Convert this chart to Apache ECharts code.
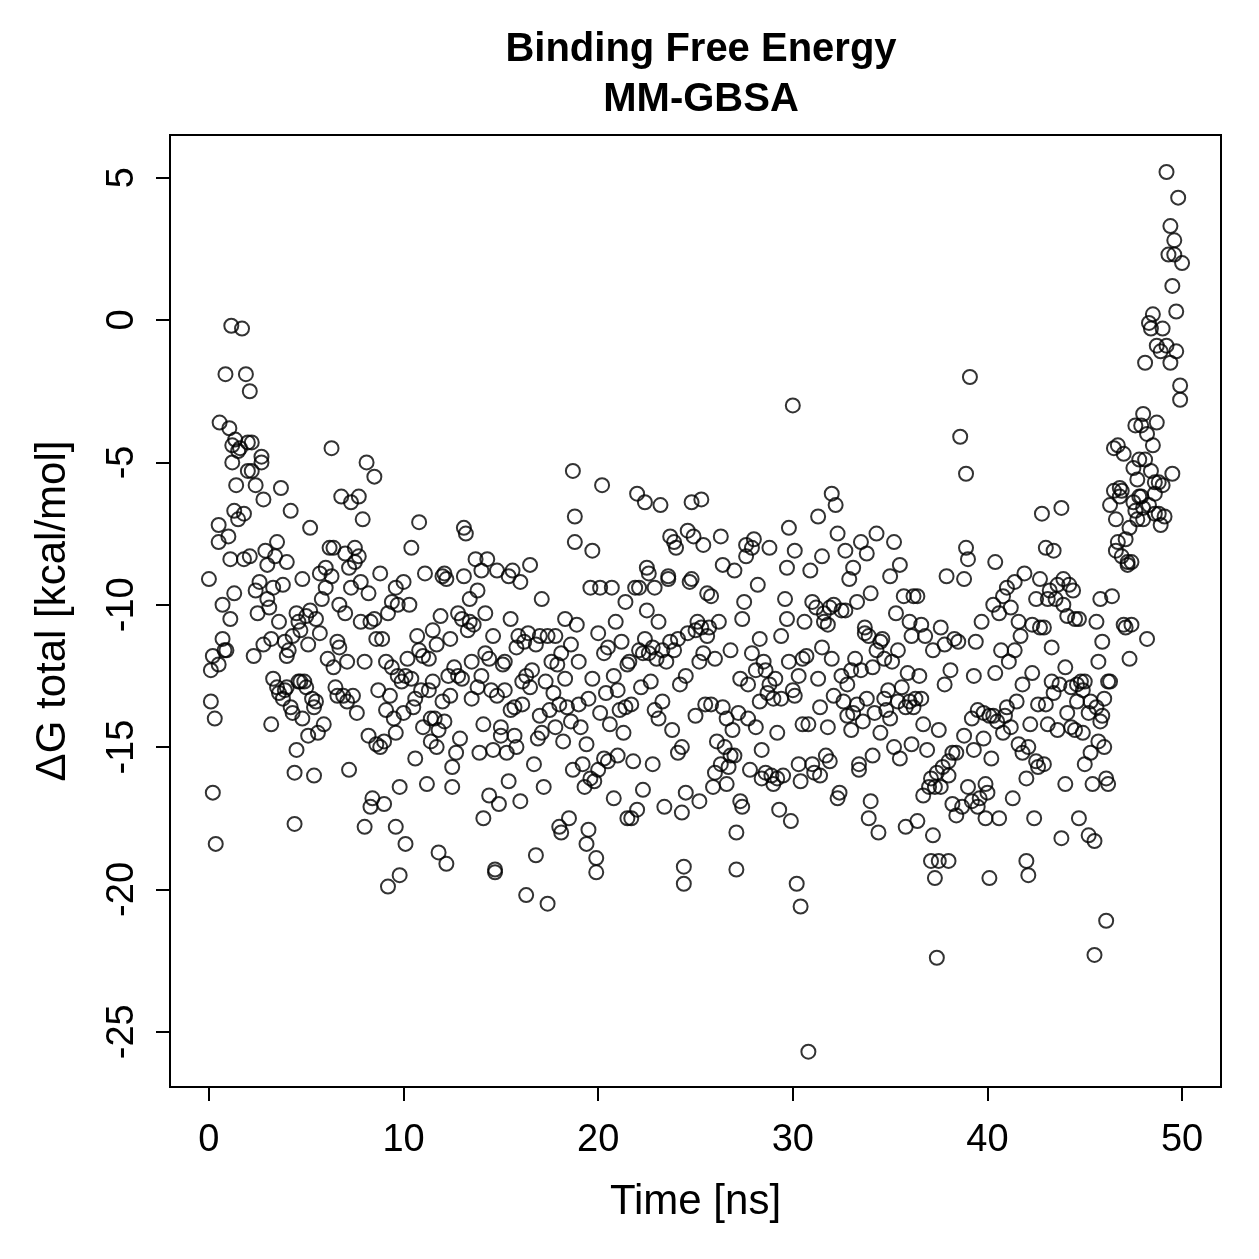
<!DOCTYPE html>
<html>
<head>
<meta charset="utf-8">
<script src="https://cdn.jsdelivr.net/npm/echarts@6/dist/echarts.min.js"></script>
<style>
  html, body { margin: 0; padding: 0; background: #fff; }
  #chart { width: 1259px; height: 1259px; }
</style>
</head>
<body>
<div id="chart"></div>
<script>
// time in ns (one entry per circle)
const time = [
  0.0, 0.1, 0.1, 0.2, 0.2, 0.3, 0.35, 0.5, 0.5, 0.5, 0.55, 0.7, 0.7, 0.8, 0.85, 0.9, 1.0, 1.05, 1.1, 1.1,
  1.15, 1.2, 1.2, 1.3, 1.3, 1.35, 1.4, 1.5, 1.5, 1.6, 1.7, 1.8, 1.8, 1.9, 2.0, 2.0, 2.1, 2.1, 2.2, 2.2,
  2.3, 2.4, 2.4, 2.5, 2.6, 2.7, 2.7, 2.8, 2.8, 2.9, 3.0, 3.0, 3.1, 3.2, 3.2, 3.3, 3.3, 3.4, 3.5, 3.5,
  3.6, 3.6, 3.7, 3.8, 3.8, 3.9, 3.9, 4.0, 4.0, 4.0, 4.1, 4.2, 4.2, 4.3, 4.3, 4.4, 4.4, 4.5, 4.5, 4.6,
  4.6, 4.7, 4.7, 4.8, 4.8, 4.9, 5.0, 5.0, 5.1, 5.1, 5.2, 5.2, 5.3, 5.4, 5.4, 5.5, 5.5, 5.6, 5.7, 5.7,
  5.8, 5.9, 6.0, 6.0, 6.1, 6.2, 6.3, 6.3, 6.4, 6.4, 6.5, 6.6, 6.6, 6.7, 6.7, 6.8, 6.9, 7.0, 7.0, 7.1,
  7.1, 7.2, 7.2, 7.3, 7.3, 7.4, 7.5, 7.5, 7.6, 7.7, 7.7, 7.8, 7.8, 7.9, 8.0, 8.0, 8.1, 8.2, 8.2, 8.3,
  8.3, 8.4, 8.5, 8.5, 8.6, 8.6, 8.7, 8.8, 8.8, 8.9, 9.0, 9.0, 9.1, 9.1, 9.2, 9.2, 9.3, 9.4, 9.4, 9.5,
  9.6, 9.6, 9.6, 9.7, 9.7, 9.8, 9.8, 9.9, 10.0, 10.0, 10.1, 10.1, 10.2, 10.3, 10.4, 10.4, 10.5, 10.6, 10.6, 10.7,
  10.8, 10.8, 10.9, 11.0, 11.0, 11.1, 11.2, 11.3, 11.3, 11.4, 11.4, 11.5, 11.5, 11.6, 11.7, 11.7, 11.8, 11.8, 11.9, 12.0,
  12.0, 12.1, 12.1, 12.2, 12.2, 12.3, 12.4, 12.4, 12.5, 12.5, 12.6, 12.7, 12.8, 12.8, 12.9, 13.0, 13.0, 13.1, 13.1, 13.2,
  13.3, 13.4, 13.4, 13.5, 13.5, 13.6, 13.7, 13.8, 13.8, 13.9, 14.0, 14.0, 14.1, 14.1, 14.2, 14.2, 14.3, 14.4, 14.4, 14.5,
  14.6, 14.6, 14.7, 14.7, 14.8, 14.8, 14.9, 15.0, 15.0, 15.1, 15.2, 15.2, 15.3, 15.4, 15.4, 15.5, 15.5, 15.6, 15.7, 15.7,
  15.8, 15.8, 15.9, 16.0, 16.0, 16.1, 16.1, 16.2, 16.3, 16.3, 16.4, 16.5, 16.5, 16.6, 16.7, 16.8, 16.8, 16.9, 17.0, 17.0,
  17.1, 17.1, 17.2, 17.3, 17.4, 17.4, 17.5, 17.6, 17.7, 17.8, 17.8, 17.9, 18.0, 18.0, 18.1, 18.1, 18.2, 18.3, 18.3, 18.4,
  18.5, 18.6, 18.6, 18.7, 18.7, 18.8, 18.8, 18.9, 19.0, 19.0, 19.1, 19.2, 19.3, 19.4, 19.4, 19.5, 19.5, 19.6, 19.6, 19.7,
  19.7, 19.8, 19.9, 19.9, 20.0, 20.0, 20.1, 20.1, 20.2, 20.3, 20.3, 20.4, 20.5, 20.5, 20.6, 20.7, 20.8, 20.8, 20.9, 21.0,
  21.0, 21.1, 21.2, 21.3, 21.4, 21.4, 21.5, 21.5, 21.6, 21.7, 21.7, 21.8, 21.9, 22.0, 22.0, 22.1, 22.1, 22.2, 22.3, 22.3,
  22.4, 22.4, 22.5, 22.5, 22.6, 22.6, 22.7, 22.8, 22.8, 22.9, 22.9, 23.0, 23.1, 23.1, 23.2, 23.3, 23.3, 23.4, 23.5, 23.6,
  23.6, 23.7, 23.7, 23.8, 23.9, 23.9, 24.0, 24.1, 24.1, 24.2, 24.3, 24.3, 24.4, 24.4, 24.5, 24.5, 24.6, 24.6, 24.7, 24.8,
  24.8, 24.9, 25.0, 25.0, 25.1, 25.2, 25.2, 25.3, 25.3, 25.4, 25.4, 25.5, 25.6, 25.6, 25.7, 25.8, 25.8, 25.9, 26.0, 26.0,
  26.1, 26.2, 26.3, 26.3, 26.4, 26.4, 26.5, 26.6, 26.6, 26.7, 26.8, 26.8, 26.9, 27.0, 27.0, 27.1, 27.1, 27.2, 27.3, 27.3,
  27.4, 27.4, 27.5, 27.6, 27.6, 27.7, 27.7, 27.8, 27.9, 27.9, 28.0, 28.1, 28.1, 28.2, 28.3, 28.3, 28.4, 28.4, 28.5, 28.6,
  28.6, 28.7, 28.8, 28.8, 28.9, 29.0, 29.0, 29.1, 29.2, 29.2, 29.3, 29.4, 29.4, 29.5, 29.6, 29.7, 29.7, 29.8, 29.8, 29.9,
  30.0, 30.0, 30.1, 30.1, 30.2, 30.3, 30.3, 30.4, 30.4, 30.5, 30.5, 30.6, 30.7, 30.8, 30.8, 30.9, 31.0, 31.0, 31.1, 31.2,
  31.3, 31.3, 31.4, 31.4, 31.5, 31.5, 31.6, 31.6, 31.7, 31.8, 31.8, 31.9, 31.9, 32.0, 32.0, 32.1, 32.1, 32.2, 32.3, 32.3,
  32.4, 32.5, 32.5, 32.6, 32.7, 32.7, 32.8, 32.8, 32.9, 33.0, 33.0, 33.1, 33.1, 33.2, 33.3, 33.3, 33.4, 33.4, 33.5, 33.5,
  33.6, 33.7, 33.7, 33.8, 33.8, 33.9, 33.9, 34.0, 34.0, 34.1, 34.1, 34.2, 34.3, 34.3, 34.4, 34.5, 34.5, 34.6, 34.7, 34.7,
  34.8, 34.9, 35.0, 35.0, 35.1, 35.2, 35.2, 35.3, 35.4, 35.4, 35.5, 35.5, 35.6, 35.7, 35.8, 35.8, 35.9, 36.0, 36.0, 36.1,
  36.1, 36.2, 36.2, 36.3, 36.4, 36.4, 36.5, 36.6, 36.6, 36.7, 36.7, 36.8, 36.9, 37.0, 37.1, 37.1, 37.2, 37.2, 37.3, 37.3,
  37.4, 37.4, 37.5, 37.5, 37.6, 37.6, 37.7, 37.8, 37.8, 37.9, 38.0, 38.0, 38.0, 38.1, 38.2, 38.2, 38.3, 38.4, 38.4, 38.5,
  38.6, 38.7, 38.8, 38.8, 38.9, 38.9, 39.0, 39.0, 39.1, 39.2, 39.2, 39.3, 39.3, 39.4, 39.5, 39.5, 39.6, 39.7, 39.8, 39.8,
  39.9, 39.9, 40.0, 40.1, 40.1, 40.2, 40.3, 40.3, 40.4, 40.4, 40.5, 40.6, 40.6, 40.7, 40.8, 40.8, 40.9, 41.0, 41.0, 41.1,
  41.2, 41.2, 41.3, 41.4, 41.4, 41.5, 41.6, 41.6, 41.7, 41.8, 41.8, 41.9, 42.0, 42.0, 42.1, 42.1, 42.2, 42.3, 42.3, 42.4,
  42.5, 42.5, 42.6, 42.6, 42.7, 42.7, 42.8, 42.9, 42.9, 43.0, 43.0, 43.1, 43.1, 43.2, 43.3, 43.3, 43.4, 43.4, 43.5, 43.6,
  43.6, 43.7, 43.8, 43.8, 43.9, 43.9, 44.0, 44.0, 44.1, 44.1, 44.2, 44.3, 44.3, 44.4, 44.5, 44.5, 44.6, 44.6, 44.7, 44.7,
  44.8, 44.9, 44.9, 45.0, 45.0, 45.2, 45.2, 45.3, 45.3, 45.4, 45.5, 45.5, 45.6, 45.6, 45.7, 45.7, 45.8, 45.8, 45.9, 45.9,
  46.0, 46.0, 46.1, 46.1, 46.2, 46.2, 46.3, 46.3, 46.4, 46.5, 46.5, 46.6, 46.6, 46.7, 46.7, 46.8, 46.8, 46.9, 46.9, 47.0,
  47.0, 47.1, 47.1, 47.2, 47.2, 47.3, 47.3, 47.4, 47.4, 47.5, 47.5, 47.6, 47.6, 47.7, 47.7, 47.8, 47.8, 47.9, 47.9, 48.0,
  48.0, 48.0, 48.1, 48.1, 48.2, 48.2, 48.3, 48.3, 48.4, 48.4, 48.5, 48.5, 48.6, 48.6, 48.6, 48.7, 48.7, 48.8, 48.8, 48.9,
  48.9, 49.0, 49.0, 49.1, 49.2, 49.2, 49.3, 49.4, 49.4, 49.5, 49.5, 49.6, 49.6, 49.7, 49.7, 49.8, 49.9, 49.9, 50.0
]

// ΔG total in kcal/mol, same order as time
const dG = [
  -9.1, -12.3, -13.4, -11.8, -16.6, -14.0, -18.4, -7.8, -7.2, -12.1, -3.6, -11.2, -10.0, -11.6, -1.9, -11.6, -7.6, -3.8, -10.5, -8.4,
  -0.2, -5.0, -4.4, -6.7, -9.6, -4.2, -5.8, -4.6, -7.0, -4.5, -0.3, -6.8, -8.4, -1.9, -5.3, -4.3, -8.3, -2.5, -4.3, -5.3,
  -11.8, -9.5, -5.8, -10.3, -9.2, -4.8, -5.0, -6.3, -11.4, -8.1, -8.6, -9.8, -10.1, -11.2, -14.2, -9.4, -12.6, -8.3, -7.8, -12.9,
  -10.6, -13.1, -5.9, -9.3, -13.3, -11.3, -13.0, -12.9, -11.8, -8.5, -11.6, -6.7, -13.6, -13.8, -11.1, -17.7, -15.9, -15.1, -10.3, -10.6,
  -12.7, -12.7, -10.9, -14.0, -9.1, -12.7, -12.9, -10.4, -11.4, -14.6, -7.3, -10.2, -13.3, -13.6, -16.0, -13.4, -10.5, -14.5, -8.9, -11.0,
  -9.8, -14.2, -8.7, -9.4, -11.9, -8.0, -4.5, -9.0, -12.2, -8.0, -12.9, -11.3, -13.2, -10.0, -11.5, -6.2, -13.2, -8.2, -10.3, -12.0,
  -13.4, -15.8, -8.7, -6.4, -9.4, -13.2, -8.0, -8.5, -13.8, -6.2, -8.3, -9.2, -10.6, -7.0, -12.0, -17.8, -5.0, -9.6, -14.6, -10.6,
  -17.1, -16.8, -5.5, -10.5, -11.2, -14.9, -13.0, -8.9, -15.0, -11.2, -14.8, -17.0, -12.0, -13.7, -10.3, -19.9, -13.2, -9.9, -12.2, -14.0,
  -17.8, -9.4, -14.5, -12.5, -10.0, -16.4, -19.5, -12.7, -13.8, -9.2, -12.5, -18.4, -11.9, -10.0, -12.6, -8.0, -13.6, -15.4, -13.3, -11.1,
  -7.1, -11.6, -13.0, -11.8, -14.3, -8.9, -16.3, -11.9, -13.0, -14.8, -14.0, -10.9, -12.7, -14.0, -15.0, -11.4, -18.7, -14.4, -10.4, -13.4,
  -9.0, -14.1, -8.9, -19.1, -9.1, -12.5, -11.2, -13.2, -16.4, -15.7, -12.2, -15.2, -10.3, -12.5, -14.7, -10.5, -12.6, -7.3, -9.0, -7.5,
  -10.9, -10.6, -9.8, -12.0, -13.3, -10.7, -8.4, -12.9, -9.5, -15.2, -8.8, -12.5, -14.2, -17.5, -10.3, -11.7, -8.4, -16.7, -11.9, -13.0,
  -11.1, -15.1, -19.4, -19.3, -8.8, -13.2, -17.0, -14.3, -14.6, -12.1, -12.0, -13.0, -15.2, -9.0, -16.2, -10.5, -13.7, -8.8, -14.6, -13.6,
  -15.0, -11.5, -11.1, -9.2, -16.9, -12.7, -13.5, -11.3, -20.2, -12.5, -11.0, -8.6, -12.9, -12.3, -15.6, -18.8, -11.4, -14.7, -13.9, -11.1,
  -14.5, -9.8, -16.4, -12.7, -20.5, -11.1, -13.7, -12.0, -13.1, -11.1, -14.3, -12.1, -17.8, -13.5, -11.7, -18.0, -14.8, -10.5, -12.6, -13.6,
  -17.5, -11.4, -14.1, -15.8, -5.3, -7.8, -6.9, -10.7, -12.0, -13.5, -14.3, -15.6, -16.4, -18.4, -14.9, -17.9, -13.3, -9.4, -16.1, -12.6,
  -8.1, -16.2, -18.9, -19.4, -15.8, -11.0, -13.8, -9.4, -5.8, -15.4, -11.7, -13.1, -15.5, -11.5, -14.2, -9.4, -16.8, -12.5, -10.6, -13.0,
  -15.3, -13.7, -11.3, -14.5, -13.6, -9.9, -12.1, -17.5, -12.0, -13.5, -17.5, -15.5, -9.4, -17.2, -6.1, -9.4, -11.6, -12.9, -16.5, -11.7,
  -11.2, -6.4, -8.7, -10.2, -11.7, -8.9, -12.7, -11.5, -15.6, -13.7, -9.4, -11.9, -10.6, -14.0, -6.5, -11.6, -13.4, -17.1, -12.0, -9.1,
  -9.0, -11.3, -7.6, -14.4, -11.6, -7.8, -8.0, -15.2, -11.2, -12.8, -15.0, -17.3, -19.2, -19.8, -16.6, -12.5, -11.0, -7.4, -9.2, -6.4,
  -9.1, -7.6, -13.9, -10.9, -10.6, -12.0, -16.9, -6.3, -10.8, -11.7, -7.9, -13.5, -9.6, -11.1, -10.8, -13.5, -9.7, -16.4, -15.9, -11.9,
  -14.8, -10.6, -7.6, -15.6, -13.6, -8.6, -15.0, -14.0, -16.3, -15.7, -11.6, -15.3, -14.4, -8.8, -15.3, -18.0, -19.3, -13.8, -16.9, -12.6,
  -17.1, -10.5, -9.9, -8.3, -7.9, -12.8, -14.0, -15.8, -11.7, -8.0, -7.7, -12.3, -14.3, -9.3, -11.2, -13.4, -16.1, -15.1, -12.0, -15.9,
  -12.3, -13.1, -12.8, -8.0, -16.0, -13.3, -16.3, -12.6, -16.1, -14.5, -17.2, -13.3, -11.1, -16.0, -9.8, -10.5, -8.7, -7.3, -12.0, -17.6,
  -3.0, -13.0, -8.1, -13.2, -19.8, -12.5, -15.6, -20.6, -16.2, -11.9, -14.2, -10.6, -11.8, -25.7, -14.2, -8.8, -15.6, -9.9, -15.9, -10.1,
  -6.9, -12.6, -13.6, -16.0, -11.5, -8.3, -10.3, -10.6, -15.3, -14.3, -10.7, -10.1, -15.5, -6.1, -11.9, -10.0, -13.2, -6.5, -16.8, -7.5,
  -16.6, -12.5, -10.2, -13.4, -8.1, -10.2, -13.9, -12.8, -9.1, -12.3, -14.4, -8.7, -13.8, -11.9, -9.9, -13.5, -15.6, -15.8, -7.8, -12.3,
  -14.1, -10.8, -11.0, -8.2, -13.3, -11.1, -17.5, -9.6, -16.9, -12.2, -15.3, -13.8, -11.6, -7.5, -18.0, -11.3, -14.5, -11.2, -13.3, -11.9,
  -13.7, -13.0, -14.0, -9.0, -12.0, -15.0, -7.8, -10.3, -13.4, -11.6, -15.4, -8.6, -12.9, -9.7, -13.6, -17.8, -12.4, -10.6, -13.4, -11.1,
  -14.9, -13.6, -9.7, -13.3, -17.6, -9.7, -12.5, -10.7, -13.3, -16.7, -14.2, -11.1, -15.1, -16.4, -19.0, -16.1, -11.6, -18.1, -16.4, -19.6,
  -22.4, -15.9, -14.4, -19.0, -10.8, -16.4, -15.7, -11.4, -12.8, -9.0, -15.5, -19.0, -16.0, -12.3, -15.2, -17.0, -11.2, -15.2, -17.4, -11.3,
  -4.1, -17.1, -9.1, -14.6, -5.4, -8.0, -8.4, -16.4, -2.0, -14.0, -16.9, -12.5, -15.1, -11.3, -13.7, -17.1, -16.8, -10.6, -13.8, -14.7,
  -16.3, -17.5, -16.6, -19.6, -13.9, -15.4, -13.9, -10.0, -8.5, -12.4, -14.1, -17.5, -10.3, -11.6, -9.7, -14.5, -13.9, -9.4, -13.6, -12.0,
  -14.3, -10.1, -16.8, -9.2, -11.6, -13.4, -10.6, -14.9, -11.1, -15.2, -12.8, -8.9, -16.1, -19.0, -19.5, -15.0, -14.2, -10.7, -12.4, -17.5,
  -15.5, -9.8, -13.5, -15.7, -10.8, -9.1, -6.8, -10.8, -15.6, -13.5, -8.0, -9.8, -14.2, -9.5, -11.5, -12.7, -8.1, -13.1, -9.8, -14.4,
  -9.3, -12.8, -6.6, -18.2, -9.1, -10.0, -12.2, -16.3, -13.8, -10.4, -9.3, -12.9, -14.3, -9.5, -10.5, -14.4, -13.4, -12.8, -10.5, -17.5,
  -12.7, -13.0, -14.5, -15.6, -12.7, -18.1, -13.8, -15.2, -13.4, -16.3, -18.3, -22.3, -13.6, -10.6, -14.8, -12.0, -9.8, -14.1, -11.3, -13.9,
  -13.3, -15.0, -21.1, -16.1, -16.3, -12.7, -12.7, -6.5, -9.7, -4.5, -6.0, -7.0, -8.1, -4.4, -7.8, -5.9, -6.2, -6.0, -8.3, -10.7,
  -4.7, -7.7, -10.8, -8.6, -8.5, -7.3, -11.9, -10.7, -8.5, -5.2, -6.4, -3.7, -6.7, -5.6, -7.0, -4.9, -6.2, -3.7, -6.2, -3.3,
  -7.0, -6.6, -4.9, -1.5, -11.2, -4.0, -6.5, -0.1, -0.3, -5.3, -4.4, 0.2, -6.1, -6.8, -5.7, -3.6, -0.9, -5.7, -6.8, -7.2,
  -1.1, -0.3, -5.8, -6.9, 5.2, -0.9, 2.3, 3.3, -1.5, 1.2, -5.4, 2.8, 2.3, 0.3, -1.1, 4.3, -2.3, -2.8, 2.0
]

const xTicks = [0, 10, 20, 30, 40, 50]
const yTicks = [-25, -20, -15, -10, -5, 0, 5]

const font = 'Liberation Sans, Arial, Helvetica, sans-serif'

const points = time.map((t, i) => [t, dG[i]])

const option = {
  animation: false,
  backgroundColor: '#fff',
  title: {
    text: 'Binding Free Energy\nMM-GBSA',
    left: 696,
    top: 20,
    textAlign: 'center',
    textStyle: {
      fontFamily: font,
      fontSize: 40,
      fontWeight: 'bold',
      color: '#000',
      lineHeight: 50
    }
  },
  grid: {
    left: 170,
    top: 135,
    right: 38,
    bottom: 172,
    show: true,
    borderColor: '#000',
    borderWidth: 2,
    backgroundColor: 'transparent'
  },
  xAxis: {
    type: 'value',
    min: -2,
    max: 52,
    name: 'Time [ns]',
    nameLocation: 'middle',
    nameGap: 94,
    nameTextStyle: { fontFamily: font, fontSize: 42, color: '#000' },
    axisLine: { show: false, onZero: false },
    splitLine: { show: false },
    axisTick: {
      show: true,
      length: 14,
      customValues: xTicks,
      lineStyle: { color: '#000', width: 2 }
    },
    axisLabel: {
      customValues: xTicks,
      margin: 35,
      fontFamily: font,
      fontSize: 38,
      color: '#000'
    }
  },
  yAxis: {
    type: 'value',
    min: -26.94,
    max: 6.5,
    name: 'ΔG total [kcal/mol]',
    nameLocation: 'middle',
    nameRotate: 90,
    nameGap: 96,
    nameTextStyle: { fontFamily: font, fontSize: 42, color: '#000' },
    axisLine: { show: false, onZero: false },
    splitLine: { show: false },
    axisTick: {
      show: true,
      length: 14,
      customValues: yTicks,
      lineStyle: { color: '#000', width: 2 }
    },
    axisLabel: {
      customValues: yTicks,
      rotate: 90,
      margin: 28,
      fontFamily: font,
      fontSize: 38,
      color: '#000'
    }
  },
  series: [
    {
      type: 'scatter',
      data: points,
      symbol: 'circle',
      symbolSize: 14,
      itemStyle: {
        color: 'rgba(0,0,0,0)',
        borderColor: '#000',
        borderWidth: 2
      },
      emphasis: { disabled: true }
    }
  ]
}

let chart = echarts.init(document.getElementById('chart'))
chart.setOption(option)
</script>
</body>
</html>
